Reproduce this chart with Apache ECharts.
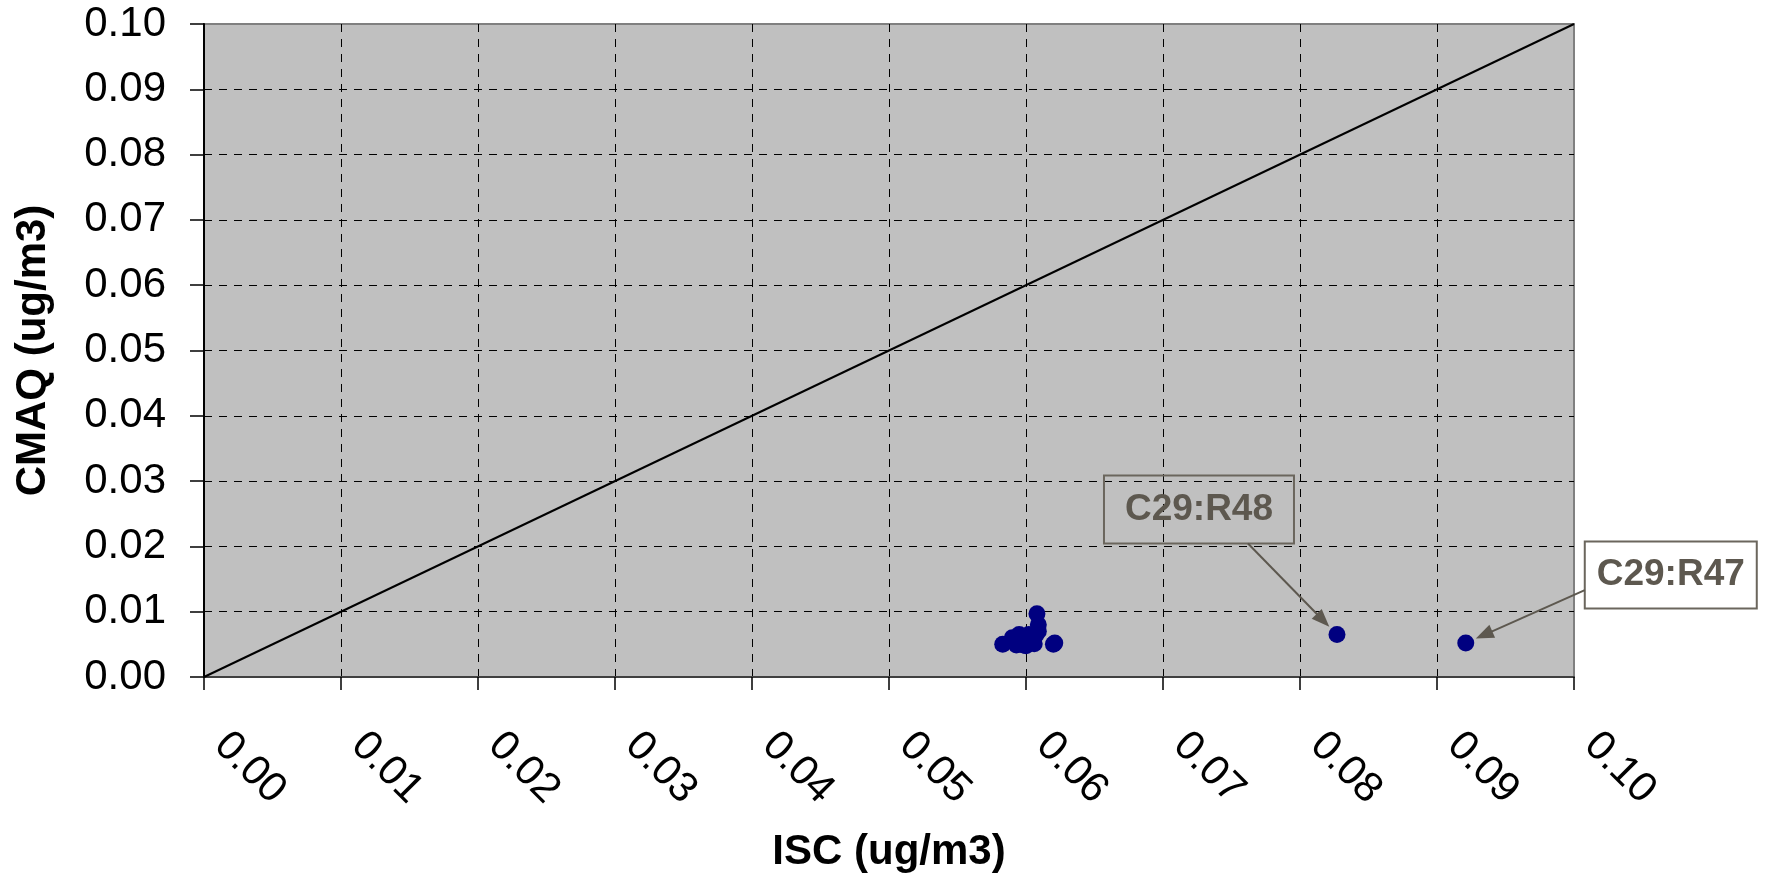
<!DOCTYPE html>
<html>
<head>
<meta charset="utf-8">
<title>CMAQ vs ISC</title>
<script src="https://cdn.jsdelivr.net/npm/echarts@6/dist/echarts.min.js"></script>
<style>
  html, body { margin: 0; padding: 0; background: #ffffff; }
  #chart { width: 1770px; height: 881px; }
</style>
</head>
<body>
<div id="chart"></div>
<script>
// ISC vs CMAQ concentrations (ug/m3), one point per receptor
const iscValues  = [0.0608, 0.0609, 0.0609, 0.0602, 0.0607, 0.0595, 0.0590, 0.0597, 0.0603,
                    0.0593, 0.0600, 0.0598, 0.0606, 0.0583, 0.0621, 0.0620, 0.0827, 0.0921];
const cmaqValues = [0.0097, 0.0080, 0.0070, 0.0065, 0.0064, 0.0065, 0.0060, 0.0055, 0.0055,
                    0.0049, 0.0048, 0.0049, 0.0051, 0.0050, 0.0052, 0.0050, 0.0065, 0.0052];
// receptors called out with a labelled arrow
const calloutIndex = [16, 17];
const calloutText  = ['C29:R48', 'C29:R47'];
// 1:1 reference line
const oneToOne = [[0, 0], [0.1, 0.1]];
const axisMin = 0, axisMax = 0.1, axisStep = 0.01;

const FONT = "'Liberation Sans', Arial, Helvetica, sans-serif";
const points = iscValues.map((x, i) => [x, cmaqValues[i]]);

const chart = echarts.init(document.getElementById('chart'), null, { renderer: 'canvas' });

chart.setOption({
  animation: false,
  backgroundColor: '#ffffff',
  grid: {
    left: 204, top: 24, right: 196, bottom: 204,
    show: true,
    backgroundColor: '#C0C0C0',
    borderColor: '#808080',
    borderWidth: 2
  },
  xAxis: {
    type: 'value',
    min: axisMin, max: axisMax, interval: axisStep,
    name: 'ISC (ug/m3)',
    nameLocation: 'middle',
    nameGap: 154,
    nameTextStyle: { fontFamily: FONT, fontSize: 42, fontWeight: 'bold', color: '#000' },
    axisLine: { show: true, onZero: false, lineStyle: { color: '#404040', width: 2 } },
    axisTick: { show: true, length: 13, lineStyle: { color: '#000', width: 1.5 } },
    axisLabel: {
      rotate: -45,
      margin: 45,
      padding: [0, 0, 0, 24],
      fontFamily: FONT, fontSize: 42, color: '#000',
      formatter: v => v.toFixed(2)
    },
    splitLine: {
      show: true, showMinLine: false, showMaxLine: false,
      lineStyle: { color: '#000', width: 1, type: [8, 7] }
    }
  },
  yAxis: {
    type: 'value',
    min: axisMin, max: axisMax, interval: axisStep,
    name: 'CMAQ (ug/m3)',
    nameLocation: 'middle',
    nameGap: 150,
    nameTextStyle: { fontFamily: FONT, fontSize: 42, fontWeight: 'bold', color: '#000' },
    axisLine: { show: true, onZero: false, lineStyle: { color: '#000', width: 2 } },
    axisTick: { show: true, length: 14, lineStyle: { color: '#000', width: 1.5 } },
    axisLabel: {
      margin: 38,
      fontFamily: FONT, fontSize: 42, color: '#000',
      formatter: v => v.toFixed(2)
    },
    splitLine: {
      show: true, showMinLine: false, showMaxLine: false,
      lineStyle: { color: '#000', width: 1, type: [8, 7] }
    }
  },
  series: [
    {
      type: 'line',
      data: oneToOne,
      symbol: 'none',
      lineStyle: { color: '#000', width: 2 },
      silent: true,
      z: 2
    },
    {
      type: 'scatter',
      data: points,
      symbol: 'circle',
      symbolSize: 17,
      itemStyle: { color: '#000080', opacity: 1 },
      z: 3
    }
  ]
});

// Callout boxes: placed relative to the point they describe, arrow ends at the point
const calloutLayout = [
  { dx: -138, dy: -125, w: 190, h: 68, from: 'bottom', fromDx: 49 },
  { dx: 205,  dy: -68,  w: 172, h: 67, from: 'left',   fromDy: 15 }
];
const INK = '#5d584f';
const graphics = [];
calloutIndex.forEach((idx, k) => {
  const p = chart.convertToPixel({ seriesIndex: 1 }, points[idx]);
  const L = calloutLayout[k];
  const cx = p[0] + L.dx, cy = p[1] + L.dy;
  const bx = cx - L.w / 2, by = cy - L.h / 2;
  graphics.push({
    type: 'rect', z: 100,
    shape: { x: bx, y: by, width: L.w, height: L.h },
    style: { fill: 'rgba(0,0,0,0)', stroke: '#6b665d', lineWidth: 2 }
  });
  graphics.push({
    type: 'text', z: 101,
    x: cx, y: cy,
    style: {
      text: calloutText[k], fill: INK,
      font: 'bold 37px ' + FONT, align: 'center', verticalAlign: 'middle'
    }
  });
  // arrow start on the box edge
  let sx, sy;
  if (L.from === 'bottom') { sx = cx + L.fromDx; sy = by + L.h; }
  else { sx = bx; sy = cy + L.fromDy; }
  const vx = p[0] - sx, vy = p[1] - sy;
  const len = Math.hypot(vx, vy);
  const ux = vx / len, uy = vy / len;
  const tipX = p[0] - ux * 11, tipY = p[1] - uy * 11;
  const headLen = 18, headHalf = 7;
  const baseX = tipX - ux * headLen, baseY = tipY - uy * headLen;
  graphics.push({
    type: 'line', z: 100,
    shape: { x1: sx, y1: sy, x2: baseX + ux * 2, y2: baseY + uy * 2 },
    style: { stroke: INK, lineWidth: 2 }
  });
  graphics.push({
    type: 'polygon', z: 100,
    shape: { points: [[tipX, tipY], [baseX - uy * headHalf, baseY + ux * headHalf], [baseX + uy * headHalf, baseY - ux * headHalf]] },
    style: { fill: INK }
  });
});
chart.setOption({ graphic: graphics });
</script>
</body>
</html>
